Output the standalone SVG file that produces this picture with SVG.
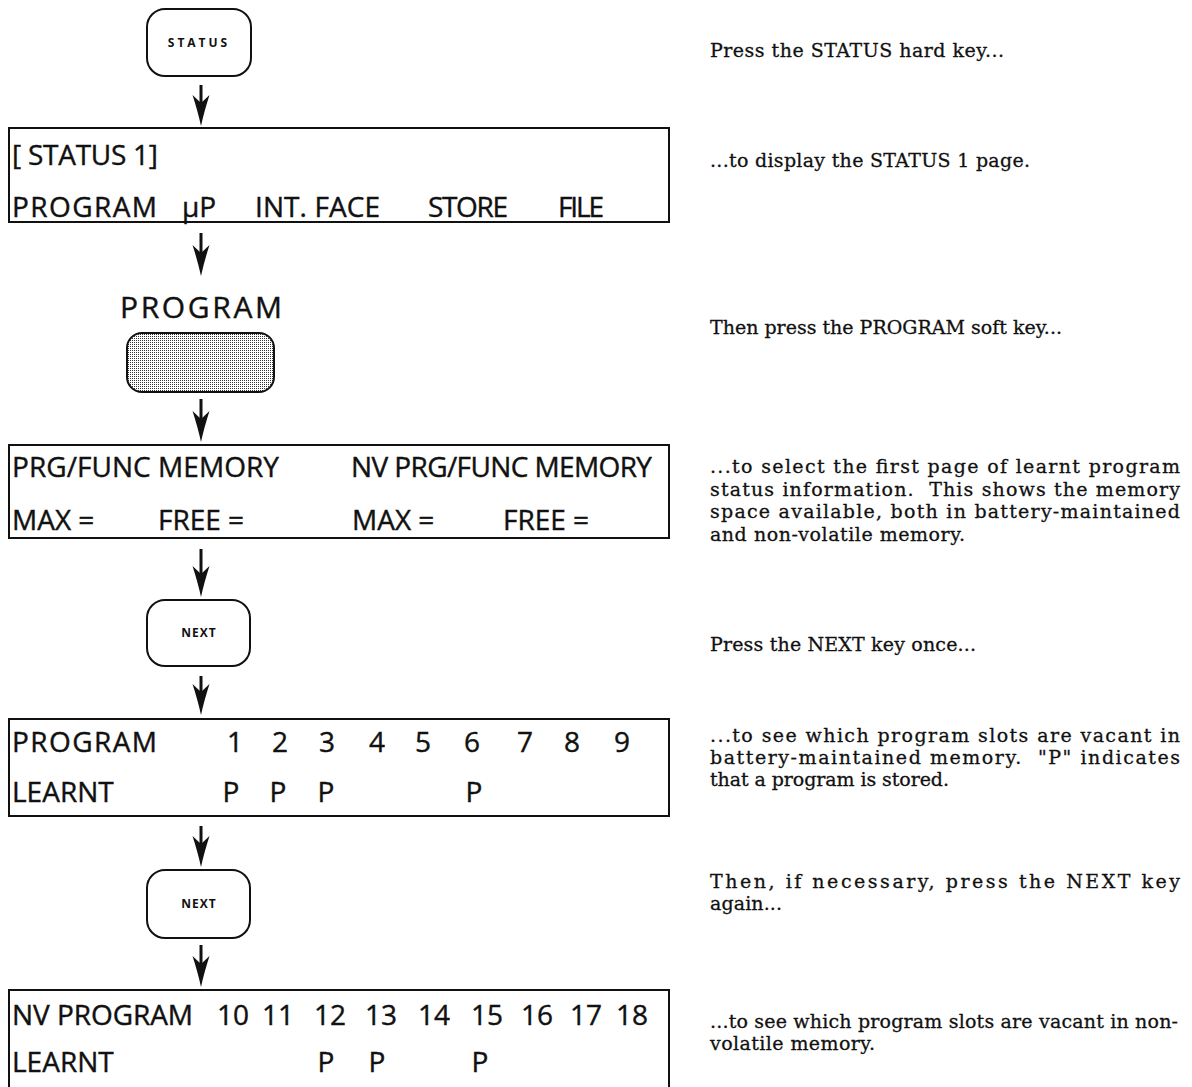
<svg xmlns="http://www.w3.org/2000/svg" width="1192" height="1087" viewBox="0 0 1192 1087">
<style>
.bg{fill:#fff}
.box{fill:#fff;stroke:#111;stroke-width:2}
.key{fill:#fff;stroke:#111;stroke-width:2}
.soft{fill:url(#stip);stroke:#111;stroke-width:2}
.lcd{font-family:"Open Sans","Liberation Sans",sans-serif;font-size:28px;fill:#111;stroke:#111;stroke-width:0.4}
.num{text-anchor:middle}
.kt{font-family:"Open Sans","Liberation Sans",sans-serif;font-size:12px;font-weight:bold;fill:#111;text-anchor:middle}
.lbl{font-family:"Open Sans","Liberation Sans",sans-serif;font-size:30px;fill:#111;stroke:#111;stroke-width:0.4;text-anchor:middle}
.note{font-family:"DejaVu Serif","Liberation Serif",serif;font-size:19px;fill:#111;stroke:#111;stroke-width:0.3}
.arr{stroke:#111;stroke-width:3;fill:none;marker-end:url(#head)}
</style>
<defs>
<pattern id="stip" width="2" height="2" patternUnits="userSpaceOnUse">
<rect width="2" height="2" fill="#fff"/>
<rect width="1" height="1" fill="#333"/>
</pattern>
<marker id="head" markerUnits="userSpaceOnUse" viewBox="-32 -10 34 20" markerWidth="34" markerHeight="20" refX="-10" refY="0" orient="auto">
<path d="M0,0 Q-14,-3 -31,-8.5 L-23,0 L-31,8.5 Q-14,3 0,0 Z" fill="#111"/>
</marker>
</defs>
<rect class="bg" width="1192" height="1087"/>

<g id="key-status">
<rect class="key" x="147" y="9" width="104" height="67" rx="18"/>
<text class="kt" x="199" y="47" letter-spacing="3">STATUS</text>
</g>

<g id="screen-status1">
<rect class="box" x="9" y="128" width="660" height="94"/>
<text class="lcd" x="12" y="165" textLength="146" lengthAdjust="spacing">[ STATUS 1]</text>
<text class="lcd" x="12" y="217" textLength="145" lengthAdjust="spacing">PROGRAM</text>
<text class="lcd" x="182" y="217">µP</text>
<text class="lcd" x="255" y="217" textLength="125" lengthAdjust="spacing">INT. FACE</text>
<text class="lcd" x="428" y="217" textLength="80" lengthAdjust="spacing">STORE</text>
<text class="lcd" x="558" y="217" textLength="46" lengthAdjust="spacing">FILE</text>
</g>

<g id="key-program">
<text class="lbl" x="201" y="318" textLength="162" lengthAdjust="spacing">PROGRAM</text>
<rect class="soft" x="127" y="333" width="147" height="59" rx="15"/>
</g>

<g id="screen-memory">
<rect class="box" x="9" y="445" width="660" height="93"/>
<text class="lcd" x="12" y="477" textLength="267" lengthAdjust="spacing">PRG/FUNC MEMORY</text>
<text class="lcd" x="351" y="477" textLength="301" lengthAdjust="spacing">NV PRG/FUNC MEMORY</text>
<text class="lcd" x="12" y="530">MAX =</text>
<text class="lcd" x="158" y="530">FREE =</text>
<text class="lcd" x="352" y="530">MAX =</text>
<text class="lcd" x="503" y="530">FREE =</text>
</g>

<g id="key-next-1">
<rect class="key" x="147" y="600" width="103" height="66" rx="18"/>
<text class="kt" x="199" y="637" letter-spacing="1">NEXT</text>
</g>

<g id="screen-program">
<rect class="box" x="9" y="719" width="660" height="97"/>
<text class="lcd" x="12" y="752" textLength="145" lengthAdjust="spacing">PROGRAM</text>
<g class="lcd num">
<text x="235" y="752">1</text><text x="280" y="752">2</text><text x="327" y="752">3</text>
<text x="377" y="752">4</text><text x="423" y="752">5</text><text x="472" y="752">6</text>
<text x="525" y="752">7</text><text x="572" y="752">8</text><text x="622" y="752">9</text>
<text x="231" y="802">P</text><text x="278" y="802">P</text><text x="326" y="802">P</text>
<text x="474" y="802">P</text>
</g>
<text class="lcd" x="12" y="802">LEARNT</text>
</g>

<g id="key-next-2">
<rect class="key" x="147" y="870" width="103" height="68" rx="18"/>
<text class="kt" x="199" y="908" letter-spacing="1">NEXT</text>
</g>

<g id="screen-nv-program">
<rect class="box" x="9" y="990" width="660" height="110"/>
<text class="lcd" x="12" y="1025" textLength="181" lengthAdjust="spacing">NV PROGRAM</text>
<g class="lcd num">
<text x="233" y="1025">10</text><text x="278" y="1025">11</text><text x="330" y="1025">12</text>
<text x="381" y="1025">13</text><text x="434" y="1025">14</text><text x="487" y="1025">15</text>
<text x="537" y="1025">16</text><text x="586" y="1025">17</text><text x="632" y="1025">18</text>
<text x="326" y="1072">P</text><text x="377" y="1072">P</text><text x="480" y="1072">P</text>
</g>
<text class="lcd" x="12" y="1072">LEARNT</text>
</g>

<g id="connectors">
<line class="arr" x1="201" y1="85" x2="201" y2="116"/>
<line class="arr" x1="201" y1="233" x2="201" y2="266"/>
<line class="arr" x1="201" y1="399" x2="201" y2="432"/>
<line class="arr" x1="201" y1="549" x2="201" y2="587"/>
<line class="arr" x1="201" y1="676" x2="201" y2="705"/>
<line class="arr" x1="201" y1="826" x2="201" y2="857"/>
<line class="arr" x1="201" y1="945" x2="201" y2="977"/>
</g>

<g id="notes" class="note">
<text x="710" y="57" textLength="294" lengthAdjust="spacing">Press the STATUS hard key...</text>
<text x="710" y="167" textLength="320" lengthAdjust="spacing">...to display the STATUS 1 page.</text>
<text x="710" y="334">Then press the PROGRAM soft key...</text>
<text x="710" y="473" textLength="470" lengthAdjust="spacing">...to select the first page of learnt program</text>
<text x="710" y="496" textLength="470" lengthAdjust="spacing" xml:space="preserve">status information.  This shows the memory</text>
<text x="710" y="518" textLength="470" lengthAdjust="spacing">space available, both in battery-maintained</text>
<text x="710" y="541" textLength="255" lengthAdjust="spacing">and non-volatile memory.</text>
<text x="710" y="651" textLength="266" lengthAdjust="spacing">Press the NEXT key once...</text>
<text x="710" y="742" textLength="470" lengthAdjust="spacing">...to see which program slots are vacant in</text>
<text x="710" y="764" textLength="470" lengthAdjust="spacing" xml:space="preserve">battery-maintained memory.  "P" indicates</text>
<text x="710" y="786" textLength="239" lengthAdjust="spacing">that a program is stored.</text>
<text x="710" y="888" textLength="470" lengthAdjust="spacing">Then, if necessary, press the NEXT key</text>
<text x="710" y="910" textLength="72" lengthAdjust="spacing">again...</text>
<text x="710" y="1028" textLength="468" lengthAdjust="spacing">...to see which program slots are vacant in non-</text>
<text x="710" y="1050" textLength="165" lengthAdjust="spacing">volatile memory.</text>
</g>
</svg>
